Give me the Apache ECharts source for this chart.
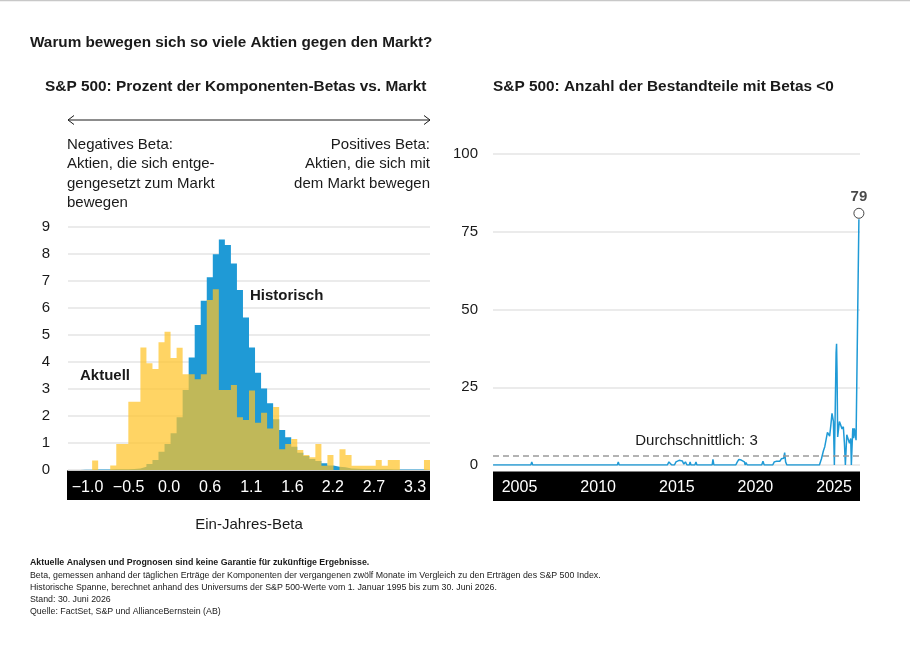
<!DOCTYPE html>
<html>
<head>
<meta charset="utf-8">
<script src="https://cdn.jsdelivr.net/npm/echarts@6/dist/echarts.min.js"></script>
<style>
html,body{margin:0;padding:0;background:#fff;}
#chart{width:910px;height:663px;}
</style>
</head>
<body>
<div id="chart"></div>
<script>
// ---------- Data: left histogram (percent of constituents per beta bin) ----------
const binStart = -1.296;   // lower edge of first beta bin
const binWidth = 0.0792;   // width of each beta bin
const aktuell = [0,0,0,0,0.35,0,0,0.17,0.96,0.96,
  2.53,2.53,4.54,3.95,3.74,4.73,5.12,4.15,4.53,3.55,
  3.55,3.36,3.55,6.30,6.69,2.96,2.96,3.15,1.95,1.85,
  2.94,1.75,2.12,1.54,2.33,0.77,0.96,1.15,0.74,0.56,
  0.47,0.96,0.16,0.56,0,0.77,0.56,0.16,0.16,0.16,
  0.16,0.37,0.16,0.37,0.37,0,0,0,0,0.37];
const historisch = [0,0,0.01,0.01,0.02,0.02,0.02,0.03,0.03,0.03,
  0.04,0.06,0.12,0.22,0.37,0.68,0.96,1.36,1.95,2.96,
  4.17,5.37,6.27,7.14,7.99,8.54,8.33,7.65,6.67,5.65,
  4.54,3.60,3.02,2.47,1.88,1.48,1.21,0.86,0.64,0.52,
  0.41,0.33,0.25,0.17,0.12,0.10,0.06,0.05,0.04,0.04,
  0.03,0.03,0.03,0.02,0.02,0.02,0.02,0.02,0.02,0.02];
const betaTickValues = [-1.04,-0.50,0.03,0.57,1.11,1.65,2.18,2.72,3.26];
const betaTickLabels = ['\u22121.0','\u22120.5','0.0','0.6','1.1','1.6','2.2','2.7','3.3'];

// ---------- Data: right line (number of constituents with beta < 0) ----------
const years = [2003.32,2005.72,2005.78,2005.84,2011.22,2011.28,2011.34,2014.40,2014.50,2014.60,2014.68,
  2014.85,2014.95,2015.05,2015.15,2015.25,2015.35,2015.45,2015.55,2015.65,2015.80,2015.85,2015.90,
  2016.15,2016.22,2016.28,2017.25,2017.30,2017.36,2018.75,2018.85,2018.95,2019.10,2019.20,2019.30,
  2019.35,2019.40,2019.48,2020.40,2020.48,2020.56,2021.10,2021.20,2021.35,2021.45,2021.55,2021.65,
  2021.72,2021.80,2021.86,2021.92,2022.00,2024.07,2024.20,2024.32,2024.41,2024.53,2024.58,2024.66,
  2024.72,2024.80,2024.87,2024.92,2024.96,2025.02,2025.06,2025.13,2025.16,2025.19,2025.23,2025.28,
  2025.34,2025.42,2025.51,2025.59,2025.66,2025.72,2025.76,2025.81,2025.91,2025.98,2026.06,2026.10,
  2026.14,2026.19,2026.25,2026.29,2026.36,2026.40,2026.58];
const counts = [0,0,1,0,0,1,0,0,1,1,0,
  0,1,0.5,1.5,1,1.3,0.3,1,0,0,1,0,
  0,1,0,0,1.8,0,0,1,1.8,1.6,1,1,
  0,0.8,0,0,1.2,0,0,1,1.2,1.7,1.2,2,
  1.5,2.2,4,1,0,0,2,4.5,5.9,6.2,10.5,10.7,
  9.3,13,16.6,17.2,14,0,0,36,39,30,9,9.5,
  14,12.9,11.6,12.3,7,0,0,9.7,9.4,7,8.5,0,
  0,11.8,8.6,11.8,9.5,8,79];
const yearTicks = [2005,2010,2015,2020,2025];
const avgCount = 3;

const footnotes = [
  'Aktuelle Analysen und Prognosen sind keine Garantie f\u00fcr zuk\u00fcnftige Ergebnisse.',
  'Beta, gemessen anhand der t\u00e4glichen Ertr\u00e4ge der Komponenten der vergangenen zw\u00f6lf Monate im Vergleich zu den Ertr\u00e4gen des S&P 500 Index.',
  'Historische Spanne, berechnet anhand des Universums der S&P 500-Werte vom 1. Januar 1995 bis zum 30. Juni 2026.',
  'Stand: 30. Juni 2026',
  'Quelle: FactSet, S&P und AllianceBernstein (AB)'
];

// ---------- Build ----------
function stepData(vals){
  const d = vals.map((v,i)=>[binStart + i*binWidth, v]);
  d.push([binStart + vals.length*binWidth, vals[vals.length-1]]);
  return d;
}
const lineData = years.map((y,i)=>[y, counts[i]]);
const lastPoint = lineData[lineData.length-1];

const FONT = '"Liberation Sans", Arial, sans-serif';
const DARK = '#1a1a1a';
const BLUE = '#1f9ad6';

const chart = echarts.init(document.getElementById('chart'), null, {renderer:'canvas'});

const graphics = [
  {type:'rect', z:-10, shape:{x:0,y:0,width:910,height:1.2}, style:{fill:'#c8c8c8'}},
  // black axis bands
  {type:'rect', z:-10, shape:{x:67,y:470.5,width:363,height:29.5}, style:{fill:'#000'}},
  {type:'rect', z:-10, shape:{x:493,y:471.5,width:367,height:29.5}, style:{fill:'#000'}},
  // double arrow
  {type:'line', shape:{x1:68,y1:120,x2:430,y2:120}, style:{stroke:DARK,lineWidth:1}},
  {type:'polyline', shape:{points:[[74,115.5],[68,120],[74,124.5]]}, style:{stroke:DARK,lineWidth:1,fill:null}},
  {type:'polyline', shape:{points:[[424,115.5],[430,120],[424,124.5]]}, style:{stroke:DARK,lineWidth:1,fill:null}}
];
function txt(t,x,y,opts){
  return {type:'text', x:x, y:y, z:100, style:Object.assign({text:t, fill:DARK, font:'15px '+FONT, textAlign:'left', textVerticalAlign:'middle'}, opts||{})};
}
graphics.push(txt('Negatives Beta:',67,145));
graphics.push(txt('Aktien, die sich entge-',67,164));
graphics.push(txt('gengesetzt zum Markt',67,184));
graphics.push(txt('bewegen',67,203));
graphics.push(txt('Positives Beta:',430,145,{textAlign:'right'}));
graphics.push(txt('Aktien, die sich mit',430,164,{textAlign:'right'}));
graphics.push(txt('dem Markt bewegen',430,184,{textAlign:'right'}));
graphics.push(txt('Aktuell',80,376,{font:'bold 15px '+FONT}));
graphics.push(txt('Historisch',250,296,{font:'bold 15px '+FONT}));
footnotes.forEach((f,i)=>{
  graphics.push(txt(f,30,563+i*12.2,{font:(i===0?'bold ':'')+'8.8px '+FONT}));
});

const option = {
  animation:false,
  backgroundColor:'#fff',
  textStyle:{fontFamily:FONT},
  title:[
    {text:'Warum bewegen sich so viele Aktien gegen den Markt?', left:30, top:35, padding:0,
     textStyle:{fontSize:15.3,fontWeight:'bold',color:DARK,fontFamily:FONT}},
    {text:'S&P 500: Prozent der Komponenten-Betas vs. Markt', left:45, top:79, padding:0,
     textStyle:{fontSize:15.4,fontWeight:'bold',color:DARK,fontFamily:FONT}},
    {text:'S&P 500: Anzahl der Bestandteile mit Betas <0', left:493, top:79, padding:0,
     textStyle:{fontSize:15.4,fontWeight:'bold',color:DARK,fontFamily:FONT}}
  ],
  grid:[
    {left:68, top:227, width:362, height:243},
    {left:493, top:154, width:367, height:311}
  ],
  xAxis:[
    {type:'value', gridIndex:0, min:binStart, max:binStart+aktuell.length*binWidth,
     axisLine:{show:false}, axisTick:{show:false}, splitLine:{show:false},
     axisLabel:{customValues:betaTickValues, color:'#fff', fontSize:16, margin:18, verticalAlign:'middle',
       formatter:function(v){
         let best=0; for(let i=0;i<betaTickValues.length;i++){ if(Math.abs(betaTickValues[i]-v)<Math.abs(betaTickValues[best]-v)) best=i; }
         return betaTickLabels[best];
       }},
     name:'Ein-Jahres-Beta', nameLocation:'middle', nameGap:47,
     nameTextStyle:{fontSize:15, color:DARK}
    },
    {type:'value', gridIndex:1, min:2003.315, max:2026.65,
     axisLine:{show:false}, axisTick:{show:false}, splitLine:{show:false},
     axisLabel:{customValues:yearTicks, color:'#fff', fontSize:16, margin:23, verticalAlign:'middle',
       formatter:function(v){return String(Math.round(v));}}
    }
  ],
  yAxis:[
    {type:'value', gridIndex:0, min:0, max:9, interval:1,
     axisLine:{show:false}, axisTick:{show:false},
     splitLine:{lineStyle:{color:'#e4e4e4', width:1.5}},
     axisLabel:{color:DARK, fontSize:15, margin:18}
    },
    {type:'value', gridIndex:1, min:0, max:100, interval:25,
     axisLine:{show:false}, axisTick:{show:false},
     splitLine:{lineStyle:{color:'#e4e4e4', width:1.5}},
     axisLabel:{color:DARK, fontSize:15, margin:15}
    }
  ],
  series:[
    {name:'Historisch', type:'line', xAxisIndex:0, yAxisIndex:0, step:'end',
     data:stepData(historisch), showSymbol:false, symbol:'none',
     lineStyle:{width:0, opacity:0},
     areaStyle:{color:BLUE, opacity:1}, z:2},
    {name:'Aktuell', type:'line', xAxisIndex:0, yAxisIndex:0, step:'end',
     data:stepData(aktuell), showSymbol:false, symbol:'none',
     lineStyle:{width:0, opacity:0},
     areaStyle:{color:'rgb(255,195,40)', opacity:0.72}, z:3},
    {name:'Anzahl', type:'line', xAxisIndex:1, yAxisIndex:1,
     data:lineData, showSymbol:false, symbol:'none',
     lineStyle:{color:BLUE, width:1.5}, z:3,
     markLine:{silent:true, symbol:'none',
       lineStyle:{color:'#9a9a9a', type:[6,4], width:1.5},
       label:{show:true, position:'insideMiddleTop', formatter:'Durchschnittlich: '+avgCount,
         color:DARK, fontSize:15, offset:[20,-2]},
       data:[{yAxis:avgCount}]}
    },
    {name:'Letzter Wert', type:'scatter', xAxisIndex:1, yAxisIndex:1,
     data:[lastPoint], symbol:'circle', symbolSize:10, symbolOffset:[0,-6],
     itemStyle:{color:'#fff', borderColor:DARK, borderWidth:1},
     label:{show:true, position:'top', distance:3, formatter:function(p){return String(p.value[1]);},
       fontWeight:'bold', fontSize:15, color:DARK}, z:5}
  ],
  graphic:graphics
};
chart.setOption(option);
</script>
</body>
</html>
